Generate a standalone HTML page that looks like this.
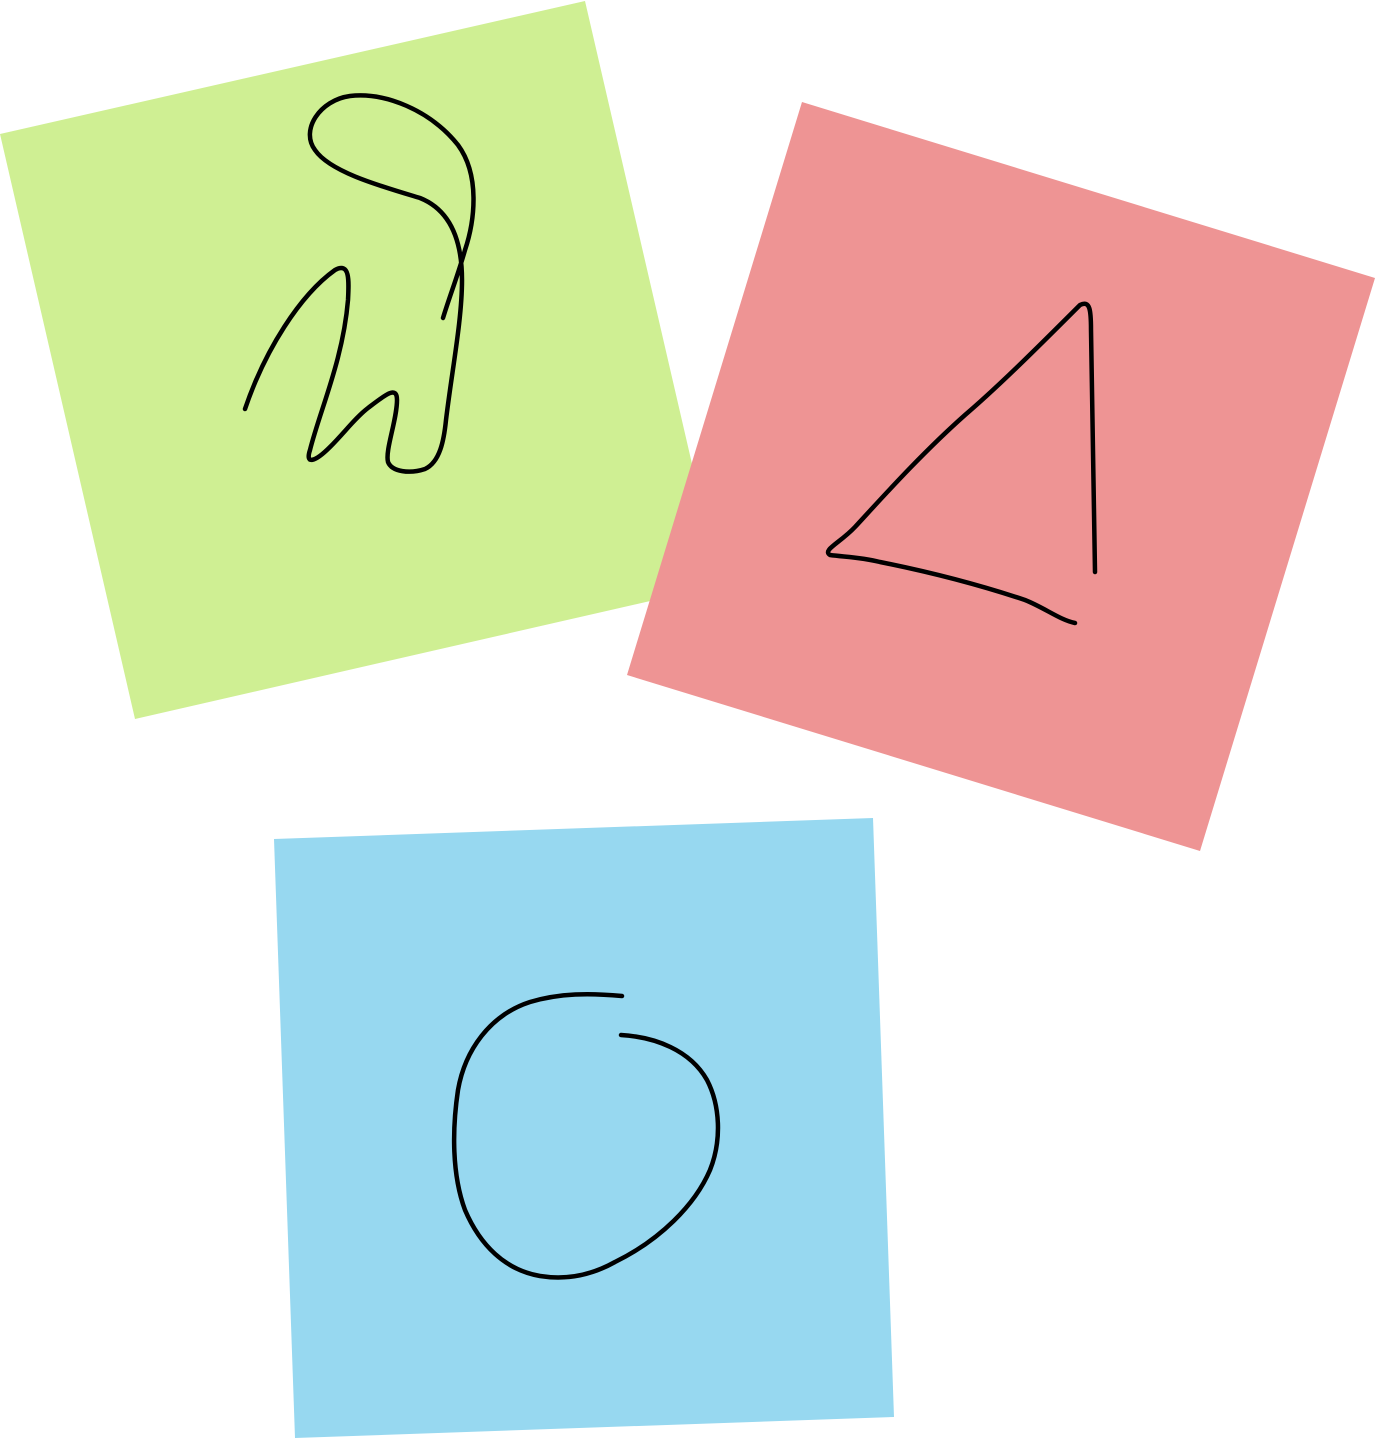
<!DOCTYPE html>
<html>
<head>
<meta charset="utf-8">
<style>
html,body{margin:0;padding:0;background:#fff;}
svg{display:block;}
</style>
</head>
<body>
<svg width="1376" height="1439" viewBox="0 0 1376 1439" xmlns="http://www.w3.org/2000/svg">
  <g>
    <polygon points="0,134 585,1 720,585 135,719" fill="#cfef93"/>
    <path fill="none" stroke="#000" stroke-width="4.5" stroke-linecap="round" stroke-linejoin="round"
      d="M245,409 C265,350 300,295 335,270 C350,262 349,280 348,300 C343,360 320,410 310,450 C305,465 315,462 330,447 C345,432 355,418 368,408 C385,395 397,385 397,400 C397,420 385,450 388,462 C392,472 410,474 425,469 C440,462 444,440 446,420 C452,370 462,320 462,280 C462,240 450,210 420,198 C380,186 330,172 315,150 C300,130 320,100 350,96 C385,92 430,110 458,145 C480,175 475,220 465,250 C458,275 450,295 443,318"/>
  </g>
  <g>
    <polygon points="802,102 1375,278 1200,851 627,675" fill="#ee9494"/>
    <path fill="none" stroke="#000" stroke-width="4.5" stroke-linecap="round" stroke-linejoin="round"
      d="M1095,572 C1094,500 1092,420 1091,330 C1091,310 1090,300 1080,305 C1040,345 1000,385 965,415 C920,455 880,500 855,527 C840,543 822,550 830,555 C845,557 860,557 880,562 C930,572 980,585 1025,600 C1045,608 1060,620 1075,623"/>
  </g>
  <g>
    <polygon points="274,839 873,818 894,1417 295,1438" fill="#97d8f0"/>
    <path fill="none" stroke="#000" stroke-width="4.5" stroke-linecap="round" stroke-linejoin="round"
      d="M622,996 C590,993 560,993 530,1002 C490,1015 465,1050 458,1090 C452,1130 452,1175 465,1210 C480,1245 505,1270 540,1276 C565,1280 590,1276 615,1262 C660,1240 695,1205 710,1170 C722,1140 720,1105 707,1080 C690,1050 655,1037 621,1035"/>
  </g>
</svg>
</body>
</html>
